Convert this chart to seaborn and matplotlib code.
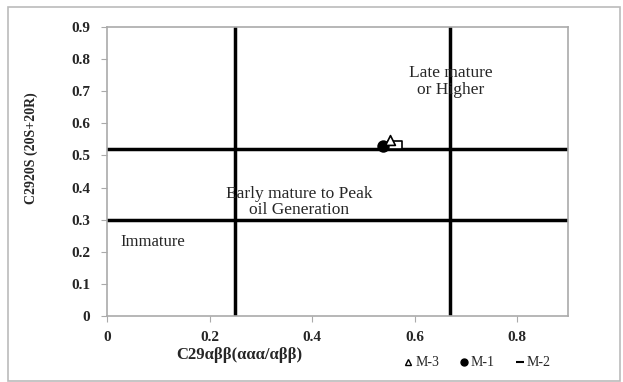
import matplotlib
matplotlib.use("Agg")
import matplotlib.pyplot as plt
import seaborn as sns
import pandas as pd
from matplotlib.lines import Line2D

sns.set_style("white")
plt.rcParams['font.family'] = ['Liberation Serif', 'DejaVu Serif']

samples = ["M-3", "M-1", "M-2"]
x_vals = [0.553, 0.538, 0.562]
y_vals = [0.548, 0.528, 0.532]
dash = [(-1, -0.55), (1, -0.55), (1, 0.55), (-1, 0.55), (-1, -0.55)]
markers = {"M-3": "^", "M-1": "o", "M-2": dash}
vlines = [0.25, 0.67]
hlines = [0.30, 0.52]
x_ticks = [0, 0.2, 0.4, 0.6, 0.8]
x_tick_labels = ["0", "0.2", "0.4", "0.6", "0.8"]
y_ticks = [0, 0.1, 0.2, 0.3, 0.4, 0.5, 0.6, 0.7, 0.8, 0.9]
y_tick_labels = ["0", "0.1", "0.2", "0.3", "0.4", "0.5", "0.6", "0.7", "0.8", "0.9"]

df = pd.DataFrame({"sample": samples, "x": x_vals, "y": y_vals})

fig = plt.figure(figsize=(6.23, 3.82), dpi=100)
ax = fig.add_axes([0.172, 0.173, 0.74, 0.756])

for v in vlines:
    ax.axvline(v, color="black", lw=2.5, zorder=1)
for h in hlines:
    ax.axhline(h, color="black", lw=2.5, zorder=1)

face = {"M-3": "white", "M-1": "black", "M-2": "white"}
sizes = {"M-3": 50, "M-1": 60, "M-2": 90}
order = ["M-2", "M-1", "M-3"]
for s in order:
    sub = df[df["sample"] == s]
    sns.scatterplot(data=sub, x="x", y="y", marker=markers[s], s=sizes[s],
                    color=face[s], edgecolor="black", linewidth=1.2, ax=ax,
                    zorder=3, legend=False)

ax.set_xlim(0, 0.9)
ax.set_ylim(0, 0.9)
ax.set_xticks(x_ticks)
ax.set_xticklabels(x_tick_labels)
ax.set_yticks(y_ticks)
ax.set_yticklabels(y_tick_labels)
for sp in ax.spines.values():
    sp.set_color("#aaaaaa")
    sp.set_linewidth(1.2)
ax.tick_params(axis="x", which="major", length=4, color="#aaaaaa",
               direction="out", labelsize=11, bottom=True, pad=7)
ax.tick_params(axis="y", which="major", length=4, color="#aaaaaa",
               direction="out", labelsize=11, left=True, pad=8)
for lab in ax.get_xticklabels() + ax.get_yticklabels():
    lab.set_fontweight("bold")

ax.set_xlabel("")
ax.set_ylabel("")
fig.text(239 / 623, 1 - 355 / 382, "C29αββ(ααα/αββ)", ha="center", va="center",
         fontsize=12, fontweight="bold")
fig.text(31 / 623, 1 - 148 / 382, "C2920S (20S+20R)", ha="center", va="center",
         rotation=90, fontsize=10, fontweight="bold")

ax.text(0.67, 0.73, "Late mature\nor Higher", ha="center", va="center",
        fontsize=12.5, linespacing=1.05)
ax.text(0.375, 0.355, "Early mature to Peak\noil Generation", ha="center",
        va="center", fontsize=12.5, linespacing=1.05)
ax.text(0.09, 0.23, "Immature", ha="center", va="center", fontsize=12)

handles = [
    Line2D([], [], marker="^", linestyle="none", markerfacecolor="white",
           markeredgecolor="black", markersize=5, label="M-3"),
    Line2D([], [], marker="o", linestyle="none", markerfacecolor="black",
           markeredgecolor="black", markersize=5, label="M-1"),
    Line2D([], [], marker="_", linestyle="none", markerfacecolor="black",
           markeredgecolor="black", markersize=6, markeredgewidth=1.5, label="M-2"),
]
fig.legend(handles=handles, loc="center", bbox_to_anchor=(476 / 623, 1 - 363 / 382),
           ncol=3, frameon=False, fontsize=10, handletextpad=0.0,
           columnspacing=1.3, handlelength=1.0)

fig.patches.append(plt.Rectangle((8 / 623, 0.003), 0.995 - 8 / 623, 0.979,
                                 transform=fig.transFigure, fill=False,
                                 edgecolor="#bbbbbb", lw=1.2))

fig.savefig("out.png", dpi=100)
